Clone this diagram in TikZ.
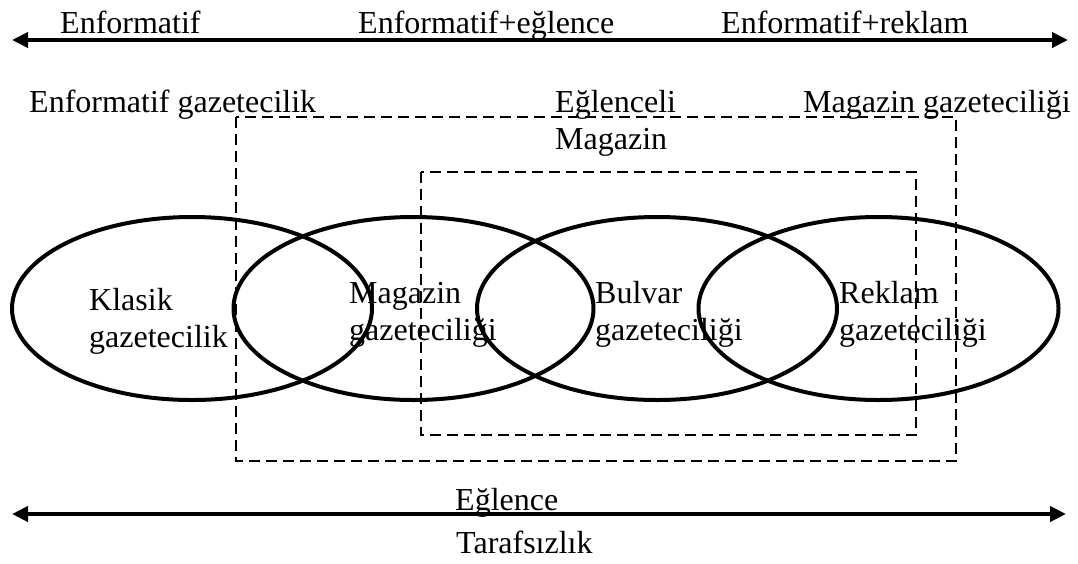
\documentclass[tikz,border=0pt]{standalone}
\usepackage{fontspec}
\setmainfont{Liberation Serif}
\usetikzlibrary{shapes.geometric,arrows.meta}
\begin{document}
\begin{tikzpicture}[x=1pt,y=-1pt,
  txt/.style={font=\fontsize{32}{37}\selectfont, inner sep=0pt, anchor=base west},
  oval/.style={ellipse, draw, line width=4pt, minimum width=360pt, minimum height=183pt, inner sep=0pt},
  zone/.style={draw, dash pattern=on 11pt off 6pt, line width=1.8pt},
  axis/.style={line width=4pt, {Triangle[length=16pt,width=15pt]}-{Triangle[length=16pt,width=15pt]}}]
\useasboundingbox (0,0) rectangle (1078,563);

% top axis
\coordinate (tl) at (12,40);
\coordinate (tr) at (1068,40);
\draw[axis] (tl) -- (tr);
\node[txt] (t1) at (60,33) {Enformatif};
\node[txt] (t2) at (358,33) {Enformatif+eğlence};
\node[txt] (t3) at (721,33) {Enformatif+reklam};

% second row
\node[txt] (s1) at (29,112) {Enformatif gazetecilik};
\node[txt] (s2) at (555,112) {Eğlenceli};
\node[txt] (s2b) at (555,149) {Magazin};
\node[txt] (s3) at (803,112) {Magazin gazeteciliği};

% dashed zones
\draw[zone] (236,117) rectangle (956,461);
\draw[zone] (421,172) rectangle (916,435);

% ellipses
\node[oval] (e1) at (192,308.5) {};
\node[oval] (e2) at (413.5,308.5) {};
\node[oval] (e3) at (657,308.5) {};
\node[oval] (e4) at (878.5,308.5) {};

% ellipse labels
\node[txt] (l1a) at (89,310) {Klasik};
\node[txt] (l1b) at (89,347) {gazetecilik};
\node[txt] (l2a) at (349,303) {Magazin};
\node[txt] (l2b) at (349,340) {gazeteciliği};
\node[txt] (l3a) at (595,303) {Bulvar};
\node[txt] (l3b) at (595,340) {gazeteciliği};
\node[txt] (l4a) at (839,303) {Reklam};
\node[txt] (l4b) at (839,340) {gazeteciliği};

% bottom axis
\coordinate (bl) at (12,514);
\coordinate (br) at (1066,514);
\draw[axis] (bl) -- (br);
\node[txt] (b1) at (455,510) {Eğlence};
\node[txt] (b2) at (456,553) {Tarafsızlık};
\end{tikzpicture}
\end{document}
